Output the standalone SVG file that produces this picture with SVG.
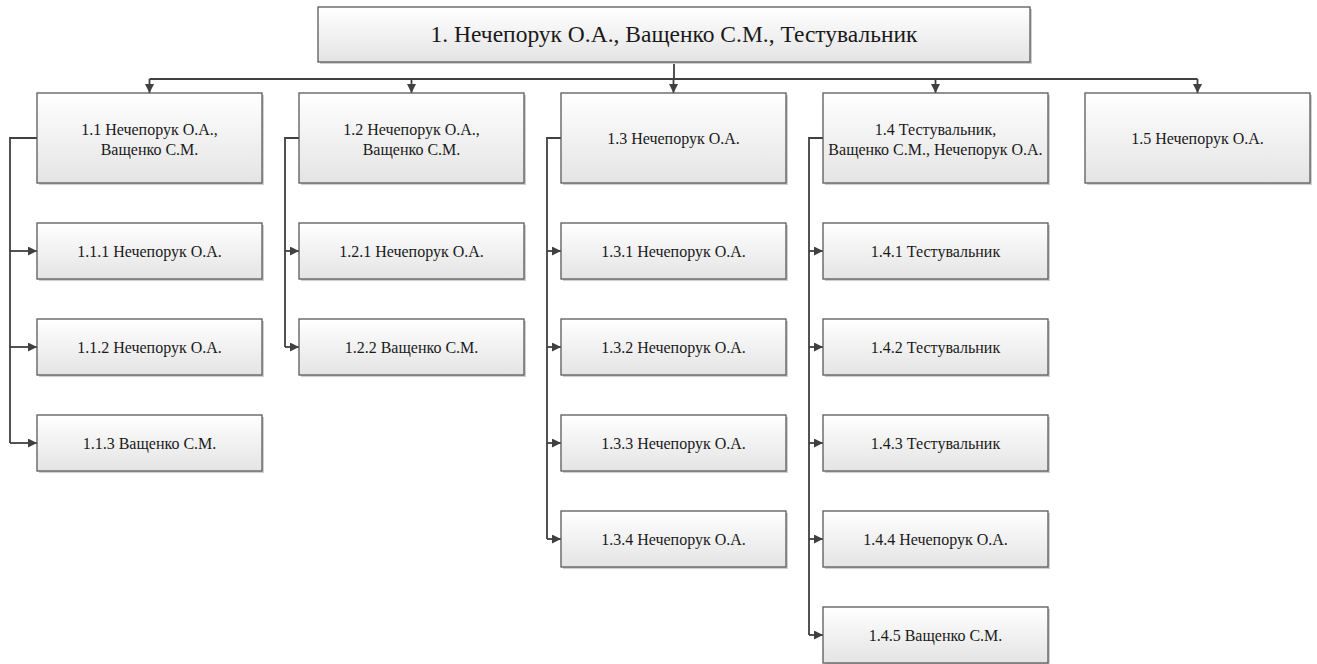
<svg xmlns="http://www.w3.org/2000/svg" width="1317" height="664" viewBox="0 0 1317 664">
<style>
.box{fill:url(#g);stroke:#595959;stroke-width:1.3}
.sh{fill:#cfcfcf}
.t{font-family:"Liberation Serif","Times New Roman",serif;font-size:16px;fill:#1a1a1a;text-anchor:middle}
.tt{font-size:23.5px}
.c{fill:none;stroke:#404040;stroke-width:1.8}
</style>
<defs>
<linearGradient id="g" x1="0" y1="0" x2="0" y2="1">
<stop offset="0" stop-color="#ffffff"/>
<stop offset="1" stop-color="#e4e4e4"/>
</linearGradient>
<marker id="a" viewBox="0 0 10 10" refX="10" refY="5" markerWidth="5" markerHeight="5" orient="auto" markerUnits="strokeWidth">
<path d="M0,0 L10,5 L0,10 z" fill="#404040"/>
</marker>
</defs>
<g id="connectors">
<path class="c" d="M674,62 V79"/>
<path class="c" d="M149.5,79 H1197.5"/>
<path class="c" d="M149.5,79 V93" marker-end="url(#a)"/>
<path class="c" d="M411.5,79 V93" marker-end="url(#a)"/>
<path class="c" d="M673.5,79 V93" marker-end="url(#a)"/>
<path class="c" d="M935.5,79 V93" marker-end="url(#a)"/>
<path class="c" d="M1197.5,79 V93" marker-end="url(#a)"/>
<path class="c" d="M37,138 H10 V443"/>
<path class="c" d="M10,251 H37" marker-end="url(#a)"/>
<path class="c" d="M10,347 H37" marker-end="url(#a)"/>
<path class="c" d="M10,443 H37" marker-end="url(#a)"/>
<path class="c" d="M299,138 H285 V347"/>
<path class="c" d="M285,251 H299" marker-end="url(#a)"/>
<path class="c" d="M285,347 H299" marker-end="url(#a)"/>
<path class="c" d="M561,138 H547 V539"/>
<path class="c" d="M547,251 H561" marker-end="url(#a)"/>
<path class="c" d="M547,347 H561" marker-end="url(#a)"/>
<path class="c" d="M547,443 H561" marker-end="url(#a)"/>
<path class="c" d="M547,539 H561" marker-end="url(#a)"/>
<path class="c" d="M823,138 H809 V635"/>
<path class="c" d="M809,251 H823" marker-end="url(#a)"/>
<path class="c" d="M809,347 H823" marker-end="url(#a)"/>
<path class="c" d="M809,443 H823" marker-end="url(#a)"/>
<path class="c" d="M809,539 H823" marker-end="url(#a)"/>
<path class="c" d="M809,635 H823" marker-end="url(#a)"/>
</g>
<g id="n1"><rect class="sh" x="320" y="9" width="712" height="55"/><rect class="box" x="318" y="7" width="712" height="55"/><text class="t tt" x="674" y="42">1. Нечепорук О.А., Ващенко С.М., Тестувальник</text></g>
<g id="n1_1"><rect class="sh" x="39" y="95" width="225" height="90"/><rect class="box" x="37" y="93" width="225" height="90"/><text class="t" x="149.5" y="134.5">1.1 Нечепорук О.А.,</text><text class="t" x="149.5" y="154.5">Ващенко С.М.</text></g>
<g id="n1_2"><rect class="sh" x="301" y="95" width="225" height="90"/><rect class="box" x="299" y="93" width="225" height="90"/><text class="t" x="411.5" y="134.5">1.2 Нечепорук О.А.,</text><text class="t" x="411.5" y="154.5">Ващенко С.М.</text></g>
<g id="n1_3"><rect class="sh" x="563" y="95" width="225" height="90"/><rect class="box" x="561" y="93" width="225" height="90"/><text class="t" x="673.5" y="143.5">1.3 Нечепорук О.А.</text></g>
<g id="n1_4"><rect class="sh" x="825" y="95" width="225" height="90"/><rect class="box" x="823" y="93" width="225" height="90"/><text class="t" x="935.5" y="134.5">1.4 Тестувальник,</text><text class="t" x="935.5" y="154.5">Ващенко С.М., Нечепорук О.А.</text></g>
<g id="n1_5"><rect class="sh" x="1087" y="95" width="225" height="90"/><rect class="box" x="1085" y="93" width="225" height="90"/><text class="t" x="1197.5" y="143.5">1.5 Нечепорук О.А.</text></g>
<g id="n1_1_1"><rect class="sh" x="39" y="225" width="225" height="56"/><rect class="box" x="37" y="223" width="225" height="56"/><text class="t" x="149.5" y="256.5">1.1.1 Нечепорук О.А.</text></g>
<g id="n1_1_2"><rect class="sh" x="39" y="321" width="225" height="56"/><rect class="box" x="37" y="319" width="225" height="56"/><text class="t" x="149.5" y="352.5">1.1.2 Нечепорук О.А.</text></g>
<g id="n1_1_3"><rect class="sh" x="39" y="417" width="225" height="56"/><rect class="box" x="37" y="415" width="225" height="56"/><text class="t" x="149.5" y="448.5">1.1.3 Ващенко С.М.</text></g>
<g id="n1_2_1"><rect class="sh" x="301" y="225" width="225" height="56"/><rect class="box" x="299" y="223" width="225" height="56"/><text class="t" x="411.5" y="256.5">1.2.1 Нечепорук О.А.</text></g>
<g id="n1_2_2"><rect class="sh" x="301" y="321" width="225" height="56"/><rect class="box" x="299" y="319" width="225" height="56"/><text class="t" x="411.5" y="352.5">1.2.2 Ващенко С.М.</text></g>
<g id="n1_3_1"><rect class="sh" x="563" y="225" width="225" height="56"/><rect class="box" x="561" y="223" width="225" height="56"/><text class="t" x="673.5" y="256.5">1.3.1 Нечепорук О.А.</text></g>
<g id="n1_3_2"><rect class="sh" x="563" y="321" width="225" height="56"/><rect class="box" x="561" y="319" width="225" height="56"/><text class="t" x="673.5" y="352.5">1.3.2 Нечепорук О.А.</text></g>
<g id="n1_3_3"><rect class="sh" x="563" y="417" width="225" height="56"/><rect class="box" x="561" y="415" width="225" height="56"/><text class="t" x="673.5" y="448.5">1.3.3 Нечепорук О.А.</text></g>
<g id="n1_3_4"><rect class="sh" x="563" y="513" width="225" height="56"/><rect class="box" x="561" y="511" width="225" height="56"/><text class="t" x="673.5" y="544.5">1.3.4 Нечепорук О.А.</text></g>
<g id="n1_4_1"><rect class="sh" x="825" y="225" width="225" height="56"/><rect class="box" x="823" y="223" width="225" height="56"/><text class="t" x="935.5" y="256.5">1.4.1 Тестувальник</text></g>
<g id="n1_4_2"><rect class="sh" x="825" y="321" width="225" height="56"/><rect class="box" x="823" y="319" width="225" height="56"/><text class="t" x="935.5" y="352.5">1.4.2 Тестувальник</text></g>
<g id="n1_4_3"><rect class="sh" x="825" y="417" width="225" height="56"/><rect class="box" x="823" y="415" width="225" height="56"/><text class="t" x="935.5" y="448.5">1.4.3 Тестувальник</text></g>
<g id="n1_4_4"><rect class="sh" x="825" y="513" width="225" height="56"/><rect class="box" x="823" y="511" width="225" height="56"/><text class="t" x="935.5" y="544.5">1.4.4 Нечепорук О.А.</text></g>
<g id="n1_4_5"><rect class="sh" x="825" y="609" width="225" height="56"/><rect class="box" x="823" y="607" width="225" height="56"/><text class="t" x="935.5" y="640.5">1.4.5 Ващенко С.М.</text></g>
</svg>
